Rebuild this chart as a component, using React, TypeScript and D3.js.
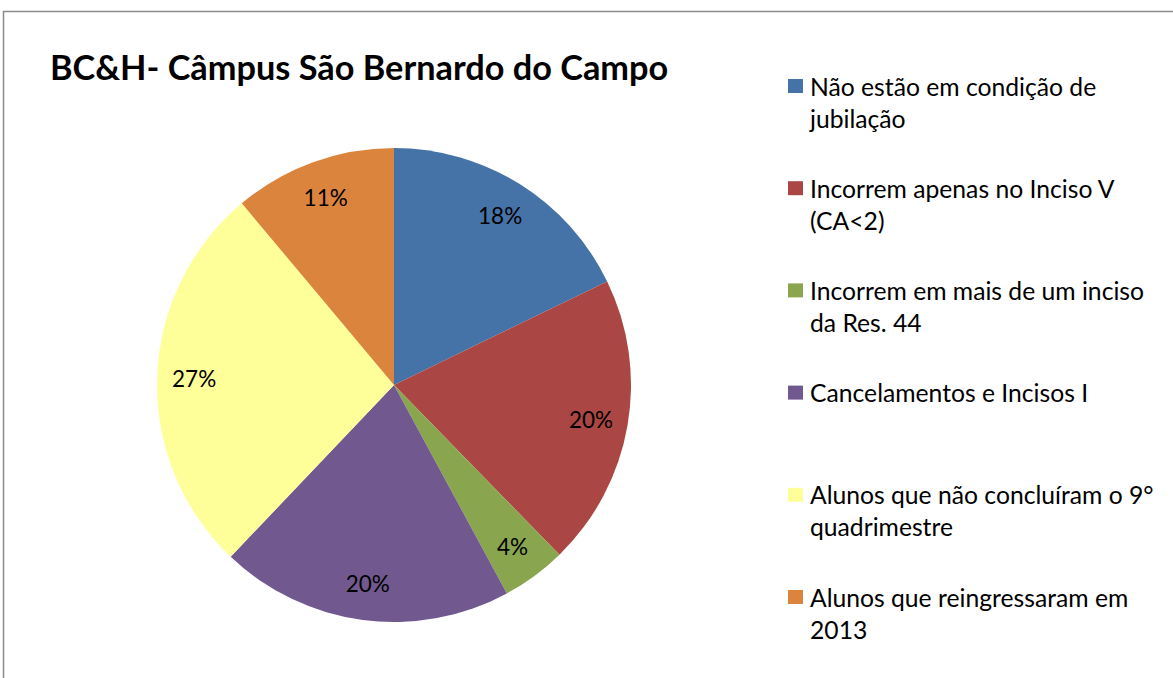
import React from "react";
import * as d3 from "d3";

const title = "BC&H- Câmpus São Bernardo do Campo";
const categories = [
  ["Não estão em condição de", "jubilação"],
  ["Incorrem apenas no Inciso V", "(CA<2)"],
  ["Incorrem em mais de um inciso", "da Res. 44"],
  ["Cancelamentos e Incisos I"],
  ["Alunos que não concluíram o 9°", "quadrimestre"],
  ["Alunos que reingressaram em", "2013"],
];
const values = [17.8, 19.9, 4.4, 20.0, 26.8, 11.1];
const colors = ["#4572A7", "#AA4643", "#89A54E", "#71588F", "#FFFF99", "#DB843D"];

const W = 1173;
const H = 678;
const FONT = "Lato, 'Open Sans', sans-serif";

export default function App() {
  const cx = 394;
  const cy = 385;
  const r = 237;
  const total = d3.sum(values);
  const pie = d3.pie<number>().sort(null).startAngle(0).endAngle(2 * Math.PI)(values);
  const arc = d3.arc<d3.PieArcDatum<number>>().innerRadius(0).outerRadius(r);
  const labelArc = d3.arc<d3.PieArcDatum<number>>().innerRadius(200).outerRadius(200);
  const fmt = d3.format(".0%");

  const legendY = d3.scaleLinear().domain([0, 5]).range([86, 597]);

  return (
    <svg width={W} height={H} style={{ position: "absolute", left: 0, top: 0 }}>
      <rect x={0} y={0} width={W} height={H} fill="#fff" />
      <rect x={3.5} y={11.5} width={W + 10} height={H + 10} fill="none" stroke="#8c8c8c" strokeWidth={1.5} />
      <text x={50} y={80} fontFamily={FONT} fontWeight="bold" fontSize={34.3} fill="#000">
        {title}
      </text>
      <g transform={`translate(${cx},${cy})`}>
        {pie.map((d, i) => (
          <path key={i} d={arc(d) || ""} fill={colors[i]} />
        ))}
        {pie.map((d, i) => {
          const [x, y] = labelArc.centroid(d);
          return (
            <text key={"l" + i} x={x} y={y} textAnchor="middle" dominantBaseline="central" fontFamily={FONT} fontSize={22.5} fill="#000">
              {fmt(d.data / total)}
            </text>
          );
        })}
      </g>
      {categories.map((lines, i) => {
        const y0 = legendY(i);
        return (
          <g key={"lg" + i}>
            <rect x={788} y={y0 - 7} width={15} height={14} fill={colors[i]} />
            {lines.map((ln, j) => (
              <text key={j} x={810} y={y0 + j * 32} dominantBaseline="central" fontFamily={FONT} fontSize={24.7} fill="#000">
                {ln}
              </text>
            ))}
          </g>
        );
      })}
    </svg>
  );
}
